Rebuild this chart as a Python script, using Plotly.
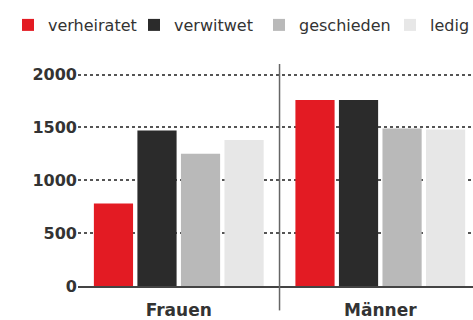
import plotly.graph_objects as go

categories = ["Frauen", "Männer"]
series_names = ["verheiratet", "verwitwet", "geschieden", "ledig"]
verheiratet = [780, 1760]
verwitwet = [1470, 1760]
geschieden = [1250, 1490]
ledig = [1380, 1480]
colors = ["#e31b23", "#2b2b2b", "#b9b9b9", "#e7e7e7"]
y_ticks = [0, 500, 1000, 1500, 2000]

values = [verheiratet, verwitwet, geschieden, ledig]
legend_x = [8, 134, 259, 390]
legend_ids = ["legend", "legend2", "legend3", "legend4"]

fig = go.Figure()
for name, vals, col, lid in zip(series_names, values, colors, legend_ids):
    fig.add_trace(go.Bar(x=categories, y=vals, name=name, marker_color=col,
                         marker_line_width=0, legend=lid))

W, H = 473, 320
layout_legends = {}
for lid, lx in zip(legend_ids, legend_x):
    layout_legends[lid] = dict(
        xref="container", yref="container", x=lx / W, y=1 - 25 / H,
        xanchor="left", yanchor="middle", orientation="h",
        font=dict(family="DejaVu Sans", size=16, color="#333333"),
        bgcolor="rgba(0,0,0,0)", itemwidth=30, tracegroupgap=0,
    )

fig.update_layout(
    width=W, height=H,
    margin=dict(l=78, r=0, t=64, b=34),
    paper_bgcolor="white", plot_bgcolor="white",
    barmode="group", bargap=0.136, bargroupgap=0.1,
    showlegend=True,
    **layout_legends,
)
fig.update_xaxes(
    range=[-0.5, 1.46], showgrid=False, zeroline=False,
    showline=True, linecolor="#444444", linewidth=1.5,
    ticks="", ticklabelstandoff=8,
    tickfont=dict(family="DejaVu Sans", size=17, color="#333333", weight="bold"),
)
fig.update_yaxes(
    range=[0, 2100], tickvals=y_ticks, showgrid=True,
    gridcolor="#555555", griddash="dot", gridwidth=1.5,
    zeroline=False, showline=False, ticks="",
    tickfont=dict(family="DejaVu Sans", size=16, color="#333333", weight="bold"),
)
fig.add_shape(type="line", xref="x", yref="paper", x0=0.5, x1=0.5, y0=-0.11, y1=1.0,
              line=dict(color="#666666", width=1.5))

fig.write_html("out.html")
